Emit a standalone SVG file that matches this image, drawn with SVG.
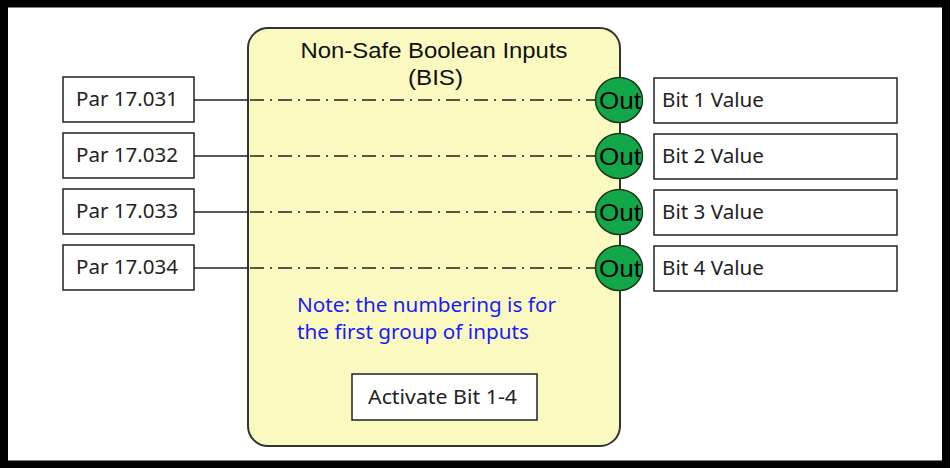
<svg xmlns="http://www.w3.org/2000/svg" width="951" height="468" viewBox="0 0 951 468">
<style>
.box{fill:#fff;stroke:#222;stroke-width:1.5}
.lbl{font-family:"Noto Sans","Open Sans",sans-serif;font-size:20px;fill:#222}
.wire{stroke:#222;stroke-width:1.5;fill:none}
.dd{stroke:#222;stroke-width:1.5;fill:none;stroke-dasharray:14 6 2 6}
.out{fill:#12a84a;stroke:#1a3a1a;stroke-width:1.5}
.outt{font-family:"Liberation Sans",Arial,sans-serif;font-size:24px;fill:#000;text-anchor:middle}
</style>
<rect x="0" y="0" width="951" height="468" fill="#fff"/>
<rect x="4" y="3.5" width="942" height="461" fill="none" stroke="#000" stroke-width="8"/>
<g id="bis">
<rect x="248" y="28" width="372" height="418" rx="20" ry="20" fill="#f9f9c0" stroke="#333" stroke-width="2"/>
<text x="434" y="58" font-family="Liberation Sans,Arial,sans-serif" font-size="22" fill="#111" text-anchor="middle" textLength="267" lengthAdjust="spacingAndGlyphs">Non-Safe Boolean Inputs</text>
<text x="435.5" y="85" font-family="Liberation Sans,Arial,sans-serif" font-size="22" fill="#111" text-anchor="middle" textLength="55" lengthAdjust="spacingAndGlyphs">(BIS)</text>
<text x="297" y="312" font-family="Noto Sans,Open Sans,sans-serif" font-size="20" fill="#1a1aff" textLength="259" lengthAdjust="spacingAndGlyphs">Note: the numbering is for</text>
<text x="297" y="339" font-family="Noto Sans,Open Sans,sans-serif" font-size="20" fill="#1a1aff" textLength="232" lengthAdjust="spacingAndGlyphs">the first group of inputs</text>
</g>
<g id="connectors">
<line class="wire" x1="194" y1="100" x2="249" y2="100"/>
<line class="wire" x1="194" y1="156" x2="249" y2="156"/>
<line class="wire" x1="194" y1="212" x2="249" y2="212"/>
<line class="wire" x1="194" y1="268" x2="249" y2="268"/>
<line class="dd" x1="250" y1="100" x2="596" y2="100"/>
<line class="dd" x1="250" y1="156" x2="596" y2="156"/>
<line class="dd" x1="250" y1="212" x2="596" y2="212"/>
<line class="dd" x1="250" y1="268" x2="596" y2="268"/>
</g>
<g id="par1"><rect class="box" x="63" y="77" width="131" height="45"/><text class="lbl" x="76" y="106" textLength="102" lengthAdjust="spacingAndGlyphs">Par 17.031</text></g>
<g id="par2"><rect class="box" x="63" y="133" width="131" height="45"/><text class="lbl" x="76" y="162" textLength="102" lengthAdjust="spacingAndGlyphs">Par 17.032</text></g>
<g id="par3"><rect class="box" x="63" y="189" width="131" height="45"/><text class="lbl" x="76" y="218" textLength="102" lengthAdjust="spacingAndGlyphs">Par 17.033</text></g>
<g id="par4"><rect class="box" x="63" y="245" width="131" height="45"/><text class="lbl" x="76" y="274" textLength="102" lengthAdjust="spacingAndGlyphs">Par 17.034</text></g>
<g id="out1"><ellipse class="out" cx="619" cy="100" rx="23.5" ry="22.5"/><text class="outt" x="620" y="108.5" textLength="42" lengthAdjust="spacingAndGlyphs">Out</text></g>
<g id="out2"><ellipse class="out" cx="619" cy="156" rx="23.5" ry="22.5"/><text class="outt" x="620" y="164.5" textLength="42" lengthAdjust="spacingAndGlyphs">Out</text></g>
<g id="out3"><ellipse class="out" cx="619" cy="212" rx="23.5" ry="22.5"/><text class="outt" x="620" y="220.5" textLength="42" lengthAdjust="spacingAndGlyphs">Out</text></g>
<g id="out4"><ellipse class="out" cx="619" cy="268" rx="23.5" ry="22.5"/><text class="outt" x="620" y="276.5" textLength="42" lengthAdjust="spacingAndGlyphs">Out</text></g>
<g id="bit1"><rect class="box" x="654" y="78" width="243" height="45"/><text class="lbl" x="662" y="107" textLength="102" lengthAdjust="spacingAndGlyphs">Bit 1 Value</text></g>
<g id="bit2"><rect class="box" x="654" y="134" width="243" height="45"/><text class="lbl" x="662" y="163" textLength="102" lengthAdjust="spacingAndGlyphs">Bit 2 Value</text></g>
<g id="bit3"><rect class="box" x="654" y="190" width="243" height="45"/><text class="lbl" x="662" y="219" textLength="102" lengthAdjust="spacingAndGlyphs">Bit 3 Value</text></g>
<g id="bit4"><rect class="box" x="654" y="246" width="243" height="45"/><text class="lbl" x="662" y="275" textLength="102" lengthAdjust="spacingAndGlyphs">Bit 4 Value</text></g>
<g id="activate"><rect class="box" x="352" y="374" width="185" height="46"/><text class="lbl" x="368" y="404" textLength="149" lengthAdjust="spacingAndGlyphs">Activate Bit 1-4</text></g>
</svg>
